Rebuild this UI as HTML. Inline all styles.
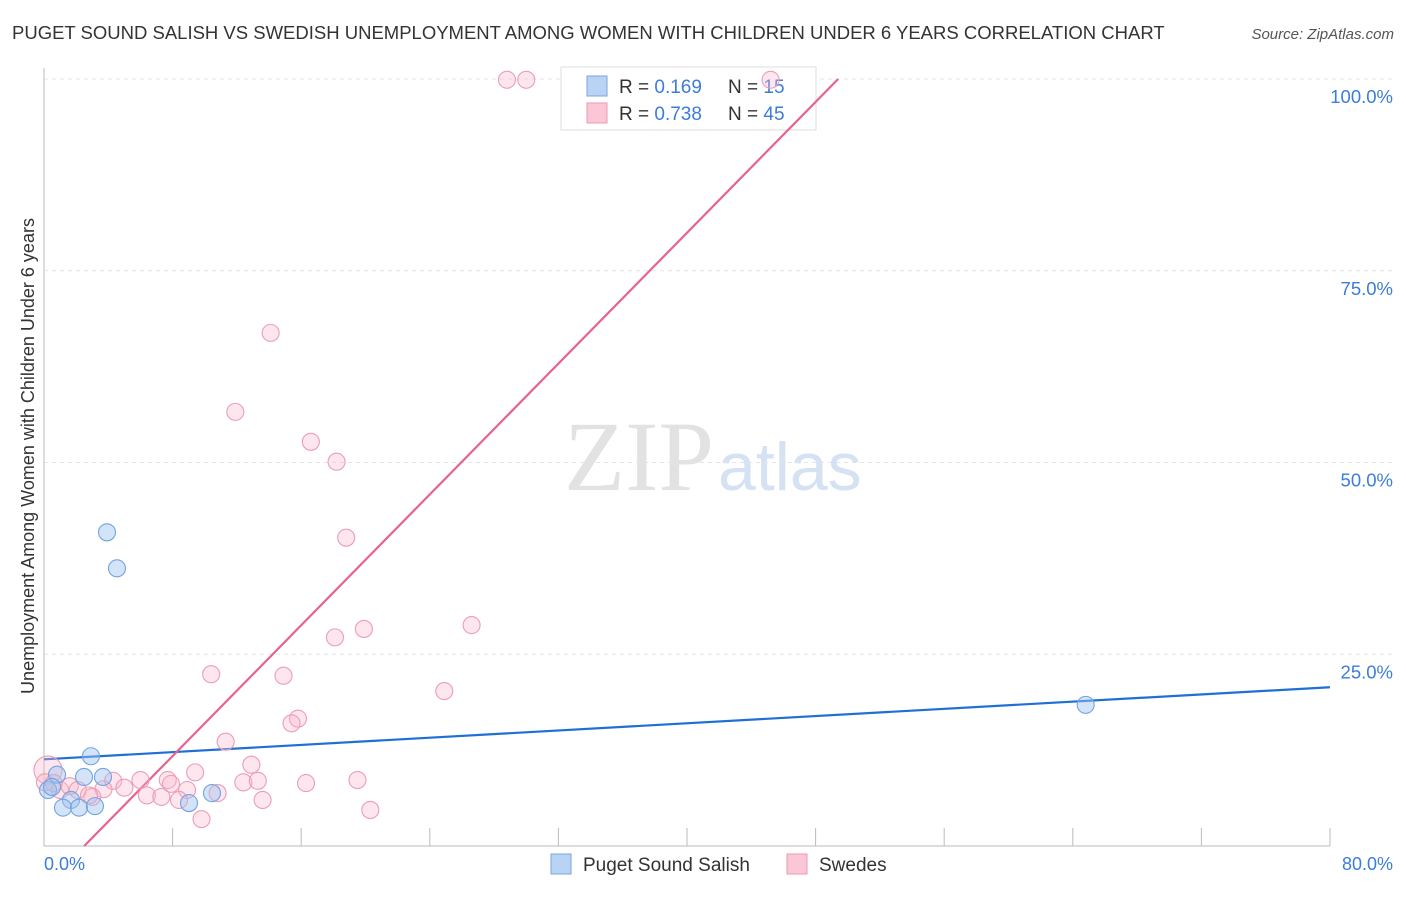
<!DOCTYPE html>
<html><head><meta charset="utf-8"><style>
body{margin:0;background:#fff;font-family:"Liberation Sans",sans-serif;}
svg text{font-family:"Liberation Sans",sans-serif;}
svg text.serif{font-family:"Liberation Serif",serif;}
</style></head><body>
<svg id="chart" width="1406" height="892">
<text x="12" y="39" font-size="18.5" fill="#333">PUGET SOUND SALISH VS SWEDISH UNEMPLOYMENT AMONG WOMEN WITH CHILDREN UNDER 6 YEARS CORRELATION CHART</text>
<text x="1394" y="39" font-size="15" fill="#555" font-style="italic" text-anchor="end">Source: ZipAtlas.com</text>
<text class="serif" x="714" y="490" font-size="100" fill="#e2e2e2" text-anchor="end">ZIP</text>
<text x="718" y="490" font-size="68" fill="#d4e2f4">atlas</text>
<g id="grid"></g><g id="axes"></g>
<g>
<rect x="561" y="67" width="255" height="63" fill="#fff" stroke="#ddd"/>
<rect x="587" y="76" width="20" height="20" fill="#b9d3f5" stroke="#7aa6e0"/>
<rect x="587" y="103" width="20" height="20" fill="#fbc7d6" stroke="#eb98b2"/>
<text x="619" y="93" font-size="19" fill="#333">R = <tspan fill="#3b7dd8">0.169</tspan></text>
<text x="728" y="93" font-size="19" fill="#333">N = <tspan fill="#3b7dd8">15</tspan></text>
<text x="619" y="120" font-size="19" fill="#333">R = <tspan fill="#3b7dd8">0.738</tspan></text>
<text x="728" y="120" font-size="19" fill="#333">N = <tspan fill="#3b7dd8">45</tspan></text>
</g>
<g id="lines"></g><g id="pts"></g>
<text transform="translate(34,456) rotate(-90)" font-size="18" fill="#333" text-anchor="middle">Unemployment Among Women with Children Under 6 years</text>
<text x="44" y="870" font-size="18" fill="#3b7dd8">0.0%</text>
<text x="1393" y="870" font-size="18" fill="#3b7dd8" text-anchor="end">80.0%</text>
<g>
<rect x="551" y="854" width="20" height="20" fill="#b9d3f5" stroke="#7aa6e0"/>
<text x="583" y="871" font-size="19" fill="#333">Puget Sound Salish</text>
<rect x="787" y="854" width="20" height="20" fill="#fbc7d6" stroke="#eb98b2"/>
<text x="819" y="871" font-size="19" fill="#333">Swedes</text>
</g>
</svg>
<script>
const yTicks=[25,50,75,100];
const yTickLabels=["25.0%","50.0%","75.0%","100.0%"];
const blueX=[3.92,4.54,2.92,2.49,0.81,3.67,0.25,0.5,1.68,1.18,2.18,3.17,9.02,10.45,64.8];
const blueY=[40.9,36.2,11.7,9.0,9.3,9.0,7.3,7.7,6.0,5.0,5.0,5.2,5.6,6.9,18.4];
const pinkX=[28.8,30.0,45.2,14.1,11.9,16.6,18.2,18.8,26.6,19.9,18.1,10.4,14.9,24.9,15.8,15.4,11.3,12.9,9.4,4.3,6.0,7.7,12.4,13.3,16.3,19.5,5.0,3.7,7.9,8.9,10.8,1.0,1.6,2.1,3.0,6.4,7.3,8.4,13.6,2.8,9.8,20.3,0.25,0.06,0.6];
const pinkY=[99.9,99.9,99.9,66.9,56.6,52.7,50.1,40.2,28.8,28.3,27.2,22.4,22.2,20.2,16.6,16.0,13.6,10.6,9.6,8.5,8.6,8.6,8.3,8.5,8.2,8.6,7.6,7.4,8.1,7.3,6.9,7.3,7.8,7.3,6.4,6.6,6.4,6.0,6.0,6.6,3.5,4.7,9.9,8.3,8.2];
const blueTrend=[11.3,20.7];
const pinkTrend=[-5.33,2.132];
const NS="http://www.w3.org/2000/svg";
const sx=v=>44+v*16.075, sy=v=>846-v*7.67;
function mk(t,a,p){const e=document.createElementNS(NS,t);for(const k in a)e.setAttribute(k,a[k]);document.getElementById(p).appendChild(e);return e;}
yTicks.forEach((t,i)=>{
 const l=mk('line',{x1:44,x2:1394,y1:sy(t),y2:sy(t),stroke:'#e4e4e4','stroke-dasharray':'4,4'},'grid');
 
 
 const tx=mk('text',{x:1393,y:sy(t)+24,'font-size':18.5,fill:'#3b7dd8','text-anchor':'end'},'grid');
 tx.textContent=yTickLabels[i];
 
 
});
const ax=mk('line',{x1:44,x2:44,y1:68,y2:846,stroke:'#bbb'},'axes');


const bx=mk('line',{x1:44,x2:1330,y1:846,y2:846,stroke:'#bbb'},'axes');


for(let v=8;v<=80;v+=8){
 const t=mk('line',{x1:sx(v),x2:sx(v),y1:828,y2:846,stroke:'#bbb'},'axes');
 
 
}
pinkX.forEach((x,i)=>{
 const c=mk('circle',{cx:sx(x),cy:sy(pinkY[i]),r:i==42?14:8.5,fill:'rgba(248,182,202,0.35)',stroke:'#ec9db5','stroke-width':1.1},'pts');
 
 
});
blueX.forEach((x,i)=>{
 const c=mk('circle',{cx:sx(x),cy:sy(blueY[i]),r:8.5,fill:'rgba(160,196,240,0.45)',stroke:'#72a3e2','stroke-width':1.1},'pts');
 
 
});
const bl=mk('line',{x1:sx(0),y1:sy(blueTrend[0]),x2:sx(80),y2:sy(blueTrend[1]),stroke:'#1f6fd6','stroke-width':2.2},'lines');


const x0=-pinkTrend[0]/pinkTrend[1], x1=(100-pinkTrend[0])/pinkTrend[1];
const pl=mk('line',{x1:sx(x0),y1:sy(0),x2:sx(x1),y2:sy(100),stroke:'#e8628f','stroke-width':2.2},'lines');


</script>
</body></html>
